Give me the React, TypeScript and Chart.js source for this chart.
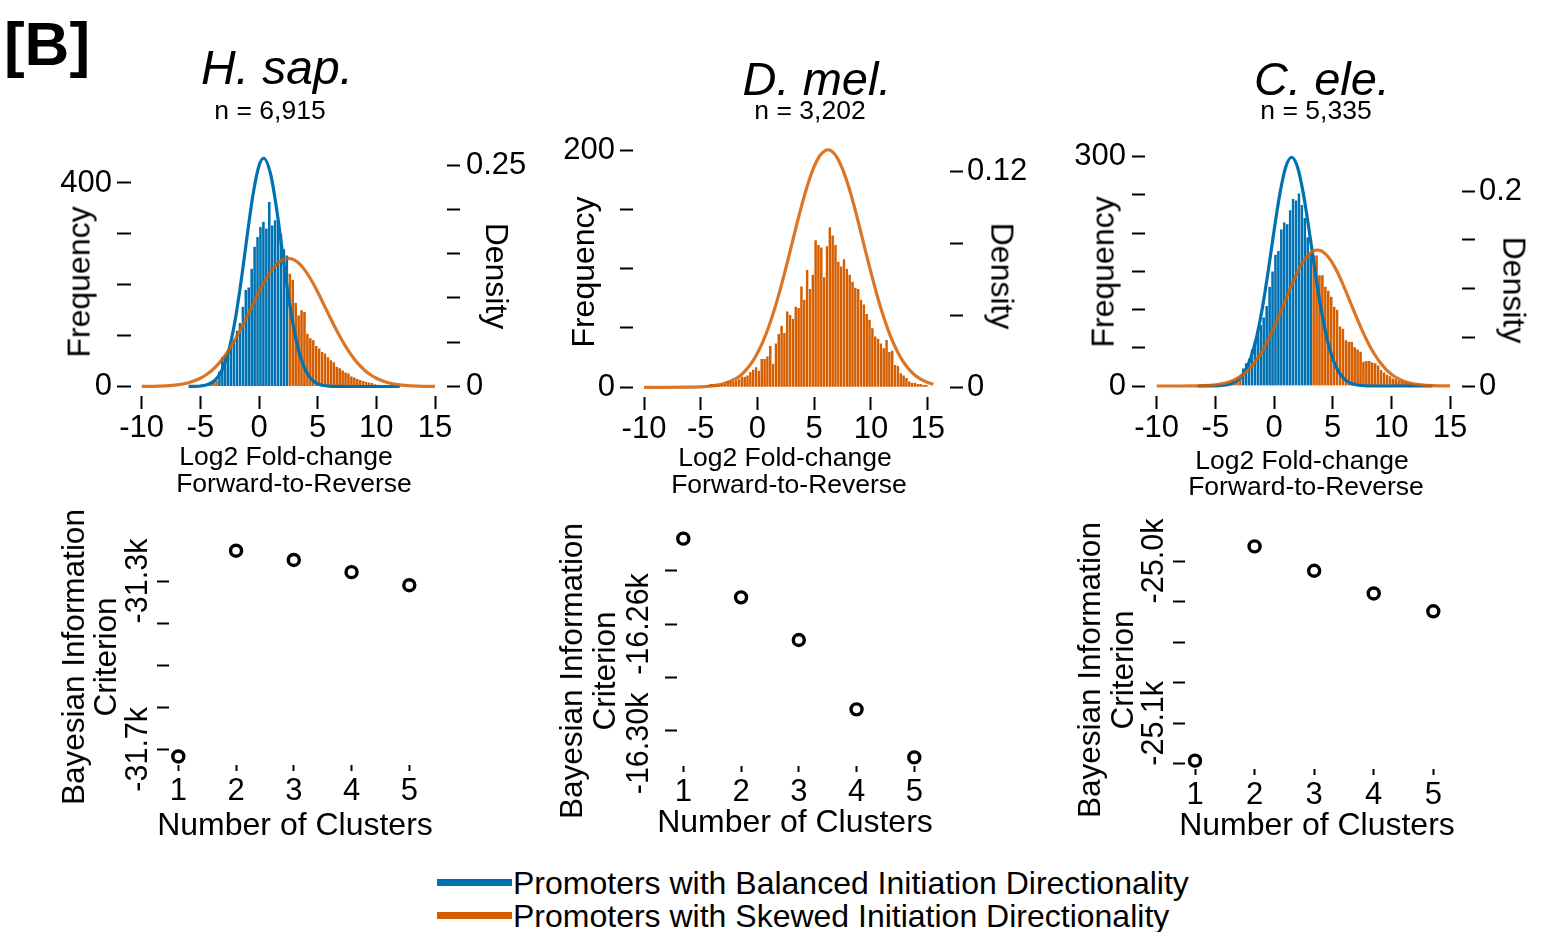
import { useEffect, useRef } from 'react';
import { Chart, registerables } from 'chart.js';

Chart.register(...registerables);

const FONT = "'Liberation Sans', Arial, Helvetica, sans-serif";
const BLUE = '#0072B2';
const ORANGE = '#D55E00';
const ORANGE_CURVE = 'rgba(213, 94, 0, 0.85)';
const BAR_EDGE = 'rgba(255, 255, 255, 0.3)';

/* ============================ DATA ============================ */
const BIN_WIDTH = 0.25;
const FC_TICKS = [-10, -5, 0, 5, 10, 15];
const FC_TICK_LABELS = ['-10', '-5', '0', '5', '10', '15'];

// ---- H. sap. ----
const HSAP_BALANCED_START = -3.5;
const HSAP_BALANCED_COUNTS = [30, 58, 62, 70, 85, 92, 110, 125, 157, 190, 195, 232, 275, 294, 314, 324, 311, 363, 317, 327, 322, 300, 270, 258];
const HSAP_SKEWED_LOW_START = -5.5;
const HSAP_SKEWED_LOW_COUNTS = [1, 1, 2, 3, 5, 7, 9, 12];
const HSAP_SKEWED_HIGH_START = 2.5;
const HSAP_SKEWED_HIGH_COUNTS = [222, 210, 165, 140, 150, 147, 104, 95, 91, 80, 75, 68, 65, 58, 52, 48, 39, 36, 32, 28, 26, 20, 18, 15, 13, 11, 9, 8, 7, 5, 4, 3, 3, 2, 2, 1, 1, 1];
const HSAP_BAL_CURVE_X = [-6, -5.5, -5, -4.5, -4, -3.5, -3, -2.5, -2, -1.5, -1, -0.5, 0, 0.4, 1, 1.5, 2, 2.5, 3, 3.5, 4, 4.5, 5, 5.5, 6, 6.5, 7, 8, 9, 10, 11, 12];
const HSAP_BAL_CURVE_Y = [0.0001, 0.0002, 0.0006, 0.0017, 0.0046, 0.0109, 0.0232, 0.0448, 0.0777, 0.1215, 0.1713, 0.2176, 0.2492, 0.2576, 0.239, 0.2003, 0.1512, 0.1029, 0.0631, 0.0349, 0.0174, 0.0078, 0.0031, 0.0011, 0.0004, 0.0001, 0, 0, 0, 0, 0, 0];
const HSAP_SKW_CURVE_X = [-10, -9, -8, -7, -6, -5.5, -5, -4.5, -4, -3.5, -3, -2.5, -2, -1.5, -1, -0.5, 0, 0.5, 1, 1.5, 2, 2.5, 3, 3.5, 4, 4.5, 5, 5.5, 6, 6.5, 7, 7.5, 8, 8.5, 9, 9.5, 10, 10.5, 11, 12, 13, 14, 15];
const HSAP_SKW_CURVE_Y = [0.0001, 0.0002, 0.0007, 0.0018, 0.0043, 0.0064, 0.0093, 0.0132, 0.0184, 0.0249, 0.033, 0.0427, 0.0538, 0.0662, 0.0796, 0.0932, 0.1066, 0.119, 0.1296, 0.1378, 0.1429, 0.1447, 0.1429, 0.1378, 0.1296, 0.119, 0.1066, 0.0932, 0.0796, 0.0662, 0.0538, 0.0427, 0.033, 0.0249, 0.0184, 0.0132, 0.0093, 0.0064, 0.0043, 0.0018, 0.0007, 0.0002, 0.0001];
const HSAP_FREQ_TICKS = [0, 100, 200, 300, 400];
const HSAP_FREQ_LABELS = ['0', '', '', '', '400'];
const HSAP_DENS_TICKS = [0, 0.05, 0.1, 0.15, 0.2, 0.25];
const HSAP_DENS_LABELS = ['0', '', '', '', '', '0.25'];

// ---- D. mel. ----
const DMEL_SKEWED_START = -4.5;
const DMEL_SKEWED_COUNTS = [2, 3, 3, 2, 2, 3, 3, 5, 5, 5, 6, 7, 9, 9, 10, 13, 15, 17, 14, 24, 24, 26, 35, 20, 37, 45, 52, 46, 64, 61, 58, 68, 67, 85, 74, 99, 83, 95, 124, 120, 118, 93, 119, 135, 128, 120, 106, 102, 108, 100, 95, 89, 84, 83, 74, 70, 62, 57, 50, 43, 41, 37, 33, 40, 30, 31, 19, 18, 12, 10, 8, 5, 4, 4, 3, 3, 2, 2];
const DMEL_SKW_CURVE_X = [-10, -8, -6, -5, -4, -3, -2, -1.5, -1, -0.5, 0, 0.5, 1, 1.5, 2, 2.5, 3, 3.5, 4, 4.5, 5, 5.5, 6, 6.2, 6.5, 7, 7.5, 8, 8.5, 9, 9.5, 10, 10.5, 11, 11.5, 12, 12.5, 13, 13.5, 14, 14.5, 15, 15.5];
const DMEL_SKW_CURVE_Y = [0, 0, 0.0001, 0.0002, 0.0007, 0.0019, 0.0045, 0.0066, 0.0097, 0.0137, 0.019, 0.0256, 0.0337, 0.0433, 0.0542, 0.0661, 0.0787, 0.0913, 0.1033, 0.1139, 0.1226, 0.1286, 0.1315, 0.1318, 0.1312, 0.1276, 0.121, 0.1119, 0.101, 0.0888, 0.0761, 0.0637, 0.0519, 0.0413, 0.032, 0.0242, 0.0178, 0.0128, 0.009, 0.0061, 0.0041, 0.0027, 0.0017];
const DMEL_FREQ_TICKS = [0, 50, 100, 150, 200];
const DMEL_FREQ_LABELS = ['0', '', '', '', '200'];
const DMEL_DENS_TICKS = [0, 0.04, 0.08, 0.12];
const DMEL_DENS_LABELS = ['0', '', '', '0.12'];

// ---- C. ele. ----
const CELE_BALANCED_START = -2.75;
const CELE_BALANCED_COUNTS = [23, 30, 36, 48, 58, 68, 80, 90, 105, 130, 150, 172, 177, 205, 214, 212, 230, 245, 243, 252, 237, 220, 195, 174];
const CELE_SKEWED_LOW_START = -5.5;
const CELE_SKEWED_LOW_COUNTS = [1, 1, 2, 2, 3, 4, 5, 7, 8, 10, 12];
const CELE_SKEWED_HIGH_START = 3.25;
const CELE_SKEWED_HIGH_COUNTS = [171, 171, 145, 145, 130, 125, 117, 104, 100, 78, 75, 60, 58, 58, 51, 48, 45, 32, 33, 33, 31, 30, 27, 21, 18, 15, 13, 10, 9, 7, 6, 5, 5, 4, 3, 3, 2, 2, 2, 1, 1, 1];
const CELE_BAL_CURVE_X = [-6.5, -5.5, -5, -4.5, -4, -3.5, -3, -2.5, -2, -1.5, -1, -0.5, 0, 0.5, 1, 1.5, 2, 2.5, 3, 3.5, 4, 4.5, 5, 5.5, 6, 6.5, 7, 7.5, 8, 9, 10, 11, 12, 13.5];
const CELE_BAL_CURVE_Y = [0, 0.0001, 0.0002, 0.0005, 0.0013, 0.0031, 0.0071, 0.0147, 0.0282, 0.0494, 0.0796, 0.1174, 0.159, 0.1973, 0.2247, 0.2346, 0.2247, 0.1973, 0.159, 0.1174, 0.0796, 0.0494, 0.0282, 0.0147, 0.0071, 0.0031, 0.0013, 0.0005, 0.0002, 0, 0, 0, 0, 0];
const CELE_SKW_CURVE_X = [-10, -8, -7, -6, -5, -4.5, -4, -3.5, -3, -2.5, -2, -1.5, -1, -0.5, 0, 0.5, 1, 1.5, 2, 2.5, 3, 3.5, 3.7, 4, 4.5, 5, 5.5, 6, 6.5, 7, 7.5, 8, 8.5, 9, 9.5, 10, 10.5, 11, 12, 13, 14, 15];
const CELE_SKW_CURVE_Y = [0, 0, 0.0001, 0.0004, 0.0013, 0.0022, 0.0036, 0.0057, 0.0088, 0.0131, 0.0189, 0.0264, 0.0358, 0.0471, 0.0601, 0.0743, 0.0891, 0.1036, 0.1168, 0.1277, 0.1354, 0.1392, 0.1395, 0.1387, 0.1341, 0.1257, 0.1143, 0.1007, 0.0861, 0.0714, 0.0573, 0.0447, 0.0338, 0.0248, 0.0176, 0.0121, 0.0081, 0.0052, 0.002, 0.0007, 0.0002, 0.0001];
const CELE_FREQ_TICKS = [0, 50, 100, 150, 200, 250, 300];
const CELE_FREQ_LABELS = ['0', '', '', '', '', '', '300'];
const CELE_DENS_TICKS = [0, 0.05, 0.1, 0.15, 0.2];
const CELE_DENS_LABELS = ['0', '', '', '', '0.2'];

// ---- BIC ----
const CLUSTERS = [1, 2, 3, 4, 5];
const CLUSTER_LABELS = ['1', '2', '3', '4', '5'];
const HSAP_BIC = [-31717, -31228, -31250, -31279, -31310];
const HSAP_BIC_TICKS = [-31700, -31600, -31500, -31400, -31300];
const HSAP_BIC_LABELS = ['-31.7k', '', '', '', '-31.3k'];
const DMEL_BIC = [-16228, -16250, -16266, -16292, -16310];
const DMEL_BIC_TICKS = [-16300, -16280, -16260, -16240];
const DMEL_BIC_LABELS = ['-16.30k   ', '', '-16.26k', ''];
const CELE_BIC = [-25123, -24991, -25006, -25020, -25031];
const CELE_BIC_TICKS = [-25125, -25100, -25075, -25050, -25025, -25000];
const CELE_BIC_LABELS = ['', '-25.1k', '', '', '', '-25.0k'];

const LEGEND_LABELS = ['Promoters with Balanced Initiation Directionality', 'Promoters with Skewed Initiation Directionality'];
const LEGEND_COLORS = [BLUE, ORANGE];

/* ============================ LAYOUT ============================ */
type Rect = { x: number; y: number; w: number; h: number };
type Area = { l: number; t: number; r: number; b: number };
type Anchor = [number, number, number, number];

const spanH = (a: Anchor, lo: number, hi: number) => {
  const k = (a[3] - a[1]) / (a[2] - a[0]);
  return { min: a[0] + (lo - a[1]) / k, max: a[0] + (hi - a[1]) / k };
};
const spanV = (a: Anchor, top: number, bottom: number) => {
  const k = (a[1] - a[3]) / (a[2] - a[0]);
  return { min: a[0] - (bottom - a[1]) / k, max: a[0] + (a[1] - top) / k };
};

const binBars = (start: number, counts: number[]) => counts.map((c, i) => ({ x: start + (i + 0.5) * BIN_WIDTH, y: c }));
const pts = (xs: number[], ys: number[]) => xs.map((x, i) => ({ x, y: ys[i] }));

interface HistPanel {
  canvas: Rect; area: Area; xA: Anchor; yA: Anchor; dA: Anchor;
  yTick: number; yPad: number; dTick: number; dPad: number;
  freqTicks: number[]; freqLabels: string[]; densTicks: number[]; densLabels: string[];
  bars: { start: number; counts: number[]; color: string }[];
  curves: { xs: number[]; ys: number[]; color: string }[];
}

const HIST_PANELS: HistPanel[] = [
  {
    canvas: { x: 30, y: 95, w: 520, h: 415 }, area: { l: 131, t: 140, r: 447, b: 396 },
    xA: [-10, 141.7, 15, 435], yA: [0, 386.5, 400, 183], dA: [0, 386.5, 0.25, 165],
    yTick: 14, yPad: 5, dTick: 13, dPad: 6,
    freqTicks: HSAP_FREQ_TICKS, freqLabels: HSAP_FREQ_LABELS, densTicks: HSAP_DENS_TICKS, densLabels: HSAP_DENS_LABELS,
    bars: [
      { start: HSAP_BALANCED_START, counts: HSAP_BALANCED_COUNTS, color: BLUE },
      { start: HSAP_SKEWED_LOW_START, counts: HSAP_SKEWED_LOW_COUNTS, color: ORANGE },
      { start: HSAP_SKEWED_HIGH_START, counts: HSAP_SKEWED_HIGH_COUNTS, color: ORANGE },
    ],
    curves: [
      { xs: HSAP_BAL_CURVE_X, ys: HSAP_BAL_CURVE_Y, color: BLUE },
      { xs: HSAP_SKW_CURVE_X, ys: HSAP_SKW_CURVE_Y, color: ORANGE_CURVE },
    ],
  },
  {
    canvas: { x: 540, y: 90, w: 520, h: 420 }, area: { l: 633, t: 135, r: 950, b: 397 },
    xA: [-10, 644, 15, 927.7], yA: [0, 387.3, 200, 150], dA: [0, 387.3, 0.12, 171],
    yTick: 13, yPad: 5, dTick: 13, dPad: 4,
    freqTicks: DMEL_FREQ_TICKS, freqLabels: DMEL_FREQ_LABELS, densTicks: DMEL_DENS_TICKS, densLabels: DMEL_DENS_LABELS,
    bars: [{ start: DMEL_SKEWED_START, counts: DMEL_SKEWED_COUNTS, color: ORANGE }],
    curves: [{ xs: DMEL_SKW_CURVE_X, ys: DMEL_SKW_CURVE_Y, color: ORANGE_CURVE }],
  },
  {
    canvas: { x: 1050, y: 95, w: 502, h: 415 }, area: { l: 1145, t: 140, r: 1462, b: 396 },
    xA: [-10, 1156.7, 15, 1450], yA: [0, 386, 300, 156.7], dA: [0, 386, 0.2, 191],
    yTick: 13, yPad: 6, dTick: 13, dPad: 4,
    freqTicks: CELE_FREQ_TICKS, freqLabels: CELE_FREQ_LABELS, densTicks: CELE_DENS_TICKS, densLabels: CELE_DENS_LABELS,
    bars: [
      { start: CELE_BALANCED_START, counts: CELE_BALANCED_COUNTS, color: BLUE },
      { start: CELE_SKEWED_LOW_START, counts: CELE_SKEWED_LOW_COUNTS, color: ORANGE },
      { start: CELE_SKEWED_HIGH_START, counts: CELE_SKEWED_HIGH_COUNTS, color: ORANGE },
    ],
    curves: [
      { xs: CELE_BAL_CURVE_X, ys: CELE_BAL_CURVE_Y, color: BLUE },
      { xs: CELE_SKW_CURVE_X, ys: CELE_SKW_CURVE_Y, color: ORANGE_CURVE },
    ],
  },
];

interface BicPanel {
  canvas: Rect; area: Area; xA: Anchor; yA: Anchor;
  values: number[]; yTicks: number[]; yLabels: string[]; labelCx: number; xTick: number;
}

const BIC_PANELS: BicPanel[] = [
  {
    canvas: { x: 100, y: 480, w: 360, h: 355 }, area: { l: 169, t: 520, r: 432, b: 765 },
    xA: [1, 178.3, 5, 409.3], yA: [-31700, 749.3, -31300, 581],
    values: HSAP_BIC, yTicks: HSAP_BIC_TICKS, yLabels: HSAP_BIC_LABELS, labelCx: 139, xTick: 6,
  },
  {
    canvas: { x: 600, y: 480, w: 360, h: 355 }, area: { l: 677, t: 520, r: 937, b: 766 },
    xA: [1, 683.3, 5, 914.3], yA: [-16300, 730.7, -16260, 624],
    values: DMEL_BIC, yTicks: DMEL_BIC_TICKS, yLabels: DMEL_BIC_LABELS, labelCx: 640, xTick: 6,
  },
  {
    canvas: { x: 1110, y: 480, w: 370, h: 355 }, area: { l: 1185, t: 520, r: 1458, b: 769 },
    xA: [1, 1195, 5, 1433.3], yA: [-25100, 723.3, -25000, 561],
    values: CELE_BIC, yTicks: CELE_BIC_TICKS, yLabels: CELE_BIC_LABELS, labelCx: 1155, xTick: 6,
  },
];

type TextItem = { t: string; x: number; y: number; size: number; rot?: number; italic?: boolean; bold?: boolean; lh?: number };

const TEXTS: TextItem[] = [
  { t: '[B]', x: 47, y: 44, size: 62, bold: true },
  { t: 'H. sap.', x: 277, y: 68, size: 48, italic: true },
  { t: 'n = 6,915', x: 270, y: 110, size: 26.5 },
  { t: 'D. mel.', x: 817, y: 79, size: 47, italic: true },
  { t: 'n = 3,202', x: 810, y: 110, size: 26.5 },
  { t: 'C. ele.', x: 1322, y: 79, size: 47, italic: true },
  { t: 'n = 5,335', x: 1316, y: 110, size: 26.5 },

  { t: 'Frequency', x: 79, y: 282, size: 32, rot: -90 },
  { t: 'Density', x: 497, y: 276, size: 32, rot: 90 },
  { t: 'Log2 Fold-change', x: 286, y: 456, size: 26.5 },
  { t: 'Forward-to-Reverse', x: 294, y: 483, size: 26.5 },

  { t: 'Frequency', x: 583, y: 272, size: 32, rot: -90 },
  { t: 'Density', x: 1002, y: 276, size: 32, rot: 90 },
  { t: 'Log2 Fold-change', x: 785, y: 457, size: 26.5 },
  { t: 'Forward-to-Reverse', x: 789, y: 484, size: 26.5 },

  { t: 'Frequency', x: 1103, y: 272, size: 32, rot: -90 },
  { t: 'Density', x: 1514, y: 290, size: 32, rot: 90 },
  { t: 'Log2 Fold-change', x: 1302, y: 460, size: 26.5 },
  { t: 'Forward-to-Reverse', x: 1306, y: 486, size: 26.5 },

  { t: 'Bayesian Information\nCriterion', x: 89, y: 657, size: 31.5, rot: -90, lh: 32 },
  { t: 'Number of Clusters', x: 295, y: 824, size: 32 },
  { t: 'Bayesian Information\nCriterion', x: 588, y: 671, size: 31.5, rot: -90, lh: 33 },
  { t: 'Number of Clusters', x: 795, y: 821, size: 32 },
  { t: 'Bayesian Information\nCriterion', x: 1106, y: 670, size: 31.5, rot: -90, lh: 33 },
  { t: 'Number of Clusters', x: 1317, y: 824, size: 32 },
];

const LEGEND_ROWS = [
  { lineY: 879, textY: 882.5 },
  { lineY: 912, textY: 915.5 },
];

/* ============================ CHARTS ============================ */
const fixedTicks = (values: number[], labels: string[]) => ({
  afterBuildTicks: (ax: any) => { ax.ticks = values.map((v) => ({ value: v })); },
  callback: (_v: any, i: number) => labels[i] ?? '',
});

function measureMax(labels: string[], size: number) {
  const ctx = document.createElement('canvas').getContext('2d')!;
  ctx.font = `normal ${size}px ${FONT}`;
  return Math.max(...labels.map((l) => ctx.measureText(l).width));
}

const tickGrid = (len: number) => ({
  display: true, offset: false, drawOnChartArea: false, drawTicks: true,
  tickLength: len, tickWidth: 2, tickColor: '#000',
});

function histConfig(p: HistPanel): any {
  const { canvas: cv, area } = p;
  const xs = spanH(p.xA, area.l, area.r);
  const ys = spanV(p.yA, area.t, area.b);
  const ds = spanV(p.dA, area.t, area.b);
  const tickFont = { family: FONT, size: 31 };
  const fx = fixedTicks(FC_TICKS, FC_TICK_LABELS);
  const fy = fixedTicks(p.freqTicks, p.freqLabels);
  const fd = fixedTicks(p.densTicks, p.densLabels);

  const datasets: any[] = [];
  p.curves.forEach((c, i) => datasets.push({
    type: 'line', data: pts(c.xs, c.ys), xAxisID: 'x', yAxisID: 'y1', borderColor: c.color, borderWidth: 3.2,
    pointRadius: 0, cubicInterpolationMode: 'monotone', fill: false, order: p.curves.length - 1 - i,
  }));
  p.bars.forEach((b) => datasets.push({
    type: 'bar', data: binBars(b.start, b.counts), xAxisID: 'x', yAxisID: 'y', backgroundColor: b.color,
    borderColor: BAR_EDGE, borderWidth: 0.5, grouped: false, barPercentage: 1, categoryPercentage: 1, order: 10,
  }));

  return {
    type: 'bar',
    data: { datasets },
    options: {
      animation: false, responsive: false, devicePixelRatio: 1, events: [],
      layout: { padding: { top: area.t - cv.y, left: 0, right: 0, bottom: 0 } },
      plugins: { legend: { display: false }, tooltip: { enabled: false } },
      scales: {
        x: {
          type: 'linear', position: 'bottom', min: xs.min, max: xs.max, offset: false, bounds: 'data',
          border: { display: false }, grid: tickGrid(13),
          afterBuildTicks: fx.afterBuildTicks,
          afterFit: (ax: any) => { ax.height = cv.y + cv.h - area.b; },
          ticks: { autoSkip: false, maxRotation: 0, minRotation: 0, padding: 1, color: '#000', font: tickFont, callback: fx.callback },
        },
        y: {
          type: 'linear', position: 'left', min: ys.min, max: ys.max, bounds: 'data',
          border: { display: false }, grid: tickGrid(p.yTick),
          afterBuildTicks: fy.afterBuildTicks,
          afterFit: (ax: any) => { ax.width = area.l - cv.x; },
          ticks: { autoSkip: false, padding: p.yPad, color: '#000', font: tickFont, callback: fy.callback },
        },
        y1: {
          type: 'linear', position: 'right', min: ds.min, max: ds.max, bounds: 'data',
          border: { display: false }, grid: tickGrid(p.dTick),
          afterBuildTicks: fd.afterBuildTicks,
          afterFit: (ax: any) => { ax.width = cv.x + cv.w - area.r; },
          ticks: { autoSkip: false, padding: p.dPad, color: '#000', font: tickFont, callback: fd.callback },
        },
      },
    },
  };
}

function bicConfig(p: BicPanel): any {
  const { canvas: cv, area } = p;
  const xs = spanH(p.xA, area.l, area.r);
  const ys = spanV(p.yA, area.t, area.b);
  const yTickLen = 12;
  const widest = measureMax(p.yLabels, 30.5);
  const pad = area.l - yTickLen - p.labelCx - widest / 2;
  const fx = fixedTicks(CLUSTERS, CLUSTER_LABELS);
  const fy = fixedTicks(p.yTicks, p.yLabels);
  return {
    type: 'scatter',
    data: {
      datasets: [{
        data: pts(CLUSTERS, p.values), pointRadius: 5.5, pointBorderWidth: 3.4, borderWidth: 3.4, pointBorderColor: '#000',
        borderColor: '#000', pointBackgroundColor: '#fff', pointStyle: 'circle', showLine: false, clip: false,
      }],
    },
    options: {
      animation: false, responsive: false, devicePixelRatio: 1, events: [],
      layout: { padding: { top: area.t - cv.y, left: 0, right: cv.x + cv.w - area.r, bottom: 0 } },
      plugins: { legend: { display: false }, tooltip: { enabled: false } },
      scales: {
        x: {
          type: 'linear', position: 'bottom', min: xs.min, max: xs.max, bounds: 'data',
          border: { display: false }, grid: tickGrid(p.xTick),
          afterBuildTicks: fx.afterBuildTicks,
          afterFit: (ax: any) => { ax.height = cv.y + cv.h - area.b; },
          ticks: { autoSkip: false, maxRotation: 0, minRotation: 0, padding: 1.5, color: '#000', font: { family: FONT, size: 31 }, callback: fx.callback },
        },
        y: {
          type: 'linear', position: 'left', min: ys.min, max: ys.max, bounds: 'data',
          border: { display: false }, grid: tickGrid(yTickLen),
          afterBuildTicks: fy.afterBuildTicks,
          afterFit: (ax: any) => { ax.width = area.l - cv.x; },
          ticks: {
            autoSkip: false, minRotation: 90, maxRotation: 90, crossAlign: 'center', padding: pad,
            color: '#000', font: { family: FONT, size: 30.5 }, callback: fy.callback,
          },
        },
      },
    },
  };
}

/* ============================ VIEW ============================ */
function Txt({ item }: { item: TextItem }) {
  return (
    <div
      style={{
        position: 'absolute', left: item.x, top: item.y,
        transform: `translate(-50%, -50%) rotate(${item.rot ?? 0}deg)`,
        fontFamily: FONT, fontSize: item.size, fontStyle: item.italic ? 'italic' : 'normal',
        fontWeight: item.bold ? 'bold' : 'normal', lineHeight: item.lh ? `${item.lh}px` : 1.15,
        whiteSpace: 'pre', textAlign: 'center', color: '#000',
      }}
    >
      {item.t}
    </div>
  );
}

export default function App() {
  const histRefs = useRef<(HTMLCanvasElement | null)[]>([]);
  const bicRefs = useRef<(HTMLCanvasElement | null)[]>([]);

  useEffect(() => {
    const charts: Chart[] = [];
    HIST_PANELS.forEach((p, i) => {
      const el = histRefs.current[i];
      if (el) charts.push(new Chart(el, histConfig(p)));
    });
    BIC_PANELS.forEach((p, i) => {
      const el = bicRefs.current[i];
      if (el) charts.push(new Chart(el, bicConfig(p)));
    });
    return () => charts.forEach((c) => c.destroy());
  }, []);

  return (
    <div style={{ position: 'absolute', left: 0, top: 0, width: 1552, height: 932, background: '#fff', overflow: 'hidden' }}>
      {HIST_PANELS.map((p, i) => (
        <canvas key={`h${i}`} ref={(el) => { histRefs.current[i] = el; }} width={p.canvas.w} height={p.canvas.h}
          style={{ position: 'absolute', left: p.canvas.x, top: p.canvas.y, width: p.canvas.w, height: p.canvas.h }} />
      ))}
      {BIC_PANELS.map((p, i) => (
        <canvas key={`b${i}`} ref={(el) => { bicRefs.current[i] = el; }} width={p.canvas.w} height={p.canvas.h}
          style={{ position: 'absolute', left: p.canvas.x, top: p.canvas.y, width: p.canvas.w, height: p.canvas.h }} />
      ))}
      {TEXTS.map((t, i) => <Txt key={`t${i}`} item={t} />)}
      {LEGEND_LABELS.map((label, i) => (
        <div key={`l${i}`}>
          <div style={{ position: 'absolute', left: 437, top: LEGEND_ROWS[i].lineY, width: 75, height: 7, background: LEGEND_COLORS[i] }} />
          <div style={{
            position: 'absolute', left: 513, top: LEGEND_ROWS[i].textY, transform: 'translateY(-50%)',
            fontFamily: FONT, fontSize: 32, lineHeight: '36px', whiteSpace: 'nowrap', color: '#000',
          }}>{label}</div>
        </div>
      ))}
    </div>
  );
}
